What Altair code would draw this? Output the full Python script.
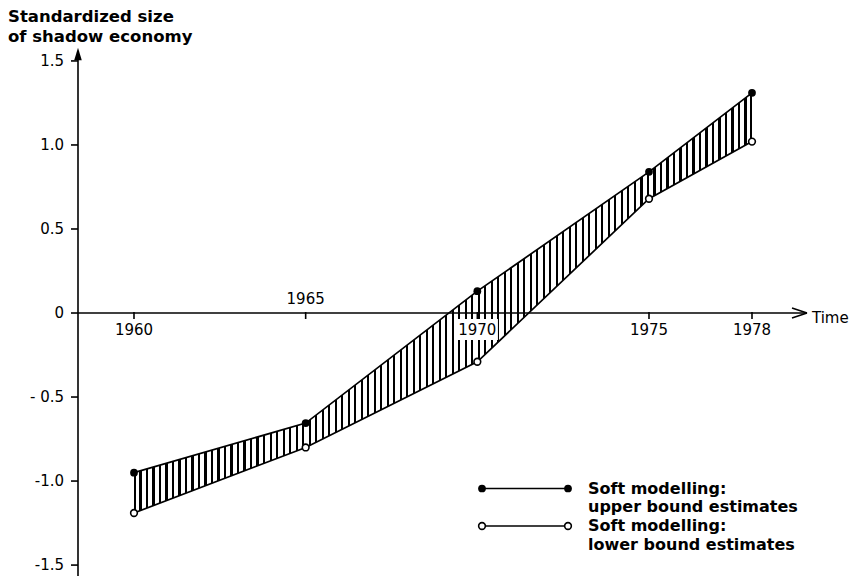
import altair as alt
import pandas as pd

# ---- data ----
years = [1960, 1965, 1970, 1975, 1978]
upper = [-0.95, -0.655, 0.13, 0.84, 1.31]
lower = [-1.19, -0.80, -0.29, 0.68, 1.02]
x_ticks = [1960, 1965, 1970, 1975, 1978]
x_label_above = 1965
y_ticks = [-1.5, -1.0, -0.5, 0.0, 0.5, 1.0, 1.5]
y_tick_labels = ["-1.5", "-1.0", "- 0.5", "0", "0.5", "1.0", "1.5"]
y_title = ["Standardized size", "of shadow economy"]
x_title = "Time"
legend_upper = ["Soft modelling:", "upper bound estimates"]
legend_lower = ["Soft modelling:", "lower bound estimates"]

df = pd.DataFrame({"year": years, "upper": upper, "lower": lower})
xt = pd.DataFrame({"t": x_ticks})
yt = pd.DataFrame({"v": y_ticks, "label": y_tick_labels})
one = pd.DataFrame({"a": [0]})

# ---- layout ----
W, H = 729, 528
XMIN, XMAX = 1958.369, 1979.602
YMIN, YMAX = -1.565, 1.577
FONT = "DejaVu Sans"
zero_px = H * (YMAX - 0) / (YMAX - YMIN)

xscale = alt.Scale(domain=[XMIN, XMAX], nice=False, zero=False)
yscale = alt.Scale(domain=[YMIN, YMAX], nice=False, zero=False)
X = lambda f: alt.X(f, type="quantitative", scale=xscale, axis=None)
Y = lambda f: alt.Y(f, type="quantitative", scale=yscale, axis=None)

# vertical hatching as a striped gradient fill
n_stripes = 95
w = 2.2 / 618
stops = []
for k in range(n_stripes + 1):
    c = k / n_stripes
    a = min(max(c - w / 2, 0.0), 1.0 - w)
    b = a + w
    stops += [
        alt.GradientStop(color="white", offset=a),
        alt.GradientStop(color="black", offset=a),
        alt.GradientStop(color="black", offset=b),
        alt.GradientStop(color="white", offset=b),
    ]
hatch = alt.LinearGradient(gradient="linear", stops=stops, x1=0, x2=1, y1=0, y2=0)

area = alt.Chart(df).mark_area(fill=hatch).encode(x=X("year"), y=Y("upper"), y2="lower:Q")

label_box = alt.Chart(one).mark_rect(fill="white").encode(
    x=X("a1"), x2="a2:Q", y=Y("b1"), y2="b2:Q",
).transform_calculate(a1="1969.4", a2="1970.6", b1="-0.035", b2="-0.16")

up_line = alt.Chart(df).mark_line(color="black", strokeWidth=1.7).encode(x=X("year"), y=Y("upper"))
lo_line = alt.Chart(df).mark_line(color="black", strokeWidth=1.7).encode(x=X("year"), y=Y("lower"))
up_pts = alt.Chart(df).mark_point(filled=True, color="black", size=60, opacity=1).encode(
    x=X("year"), y=Y("upper"))
lo_pts = alt.Chart(df).mark_point(filled=True, fill="white", stroke="black", strokeWidth=1.6,
                                  size=45, opacity=1).encode(x=X("year"), y=Y("lower"))

# ---- axes drawn as marks ----
axis_w = 1.6
y_line = alt.Chart(one).mark_rule(color="black", strokeWidth=axis_w).encode(
    x=alt.value(0), y=alt.value(6), y2=alt.value(H))
y_arrow = alt.Chart(one).mark_point(
    shape="M0,-1 L0.6,1 L-0.6,1 Z", filled=True, color="black", size=160, opacity=1
).encode(x=alt.value(0), y=alt.value(6))
y_tick_marks = alt.Chart(yt).mark_rule(color="black", strokeWidth=axis_w).encode(
    x=alt.value(-7), x2=alt.value(0), y=Y("v"))
y_tick_text = alt.Chart(yt).mark_text(
    font=FONT, fontSize=15, color="black", align="right", baseline="middle"
).encode(x=alt.value(-14), y=Y("v"), text="label:N")
y_title_text = alt.Chart(one).mark_text(
    font=FONT, fontSize=16.5, fontWeight="bold", color="black", align="left", baseline="top",
    lineHeight=19.5
).encode(x=alt.value(-70), y=alt.value(-39), text=alt.value(y_title))

x_line = alt.Chart(one).mark_rule(color="black", strokeWidth=axis_w).encode(
    x=alt.value(0), x2=alt.value(W), y=alt.value(zero_px))
x_arrow1 = alt.Chart(one).mark_rule(color="black", strokeWidth=axis_w).encode(
    x=alt.value(W - 15), y=alt.value(zero_px - 5), x2=alt.value(W), y2=alt.value(zero_px))
x_arrow2 = alt.Chart(one).mark_rule(color="black", strokeWidth=axis_w).encode(
    x=alt.value(W - 15), y=alt.value(zero_px + 5), x2=alt.value(W), y2=alt.value(zero_px))
x_tick_marks = alt.Chart(xt).mark_rule(color="black", strokeWidth=axis_w).encode(
    x=X("t"), y=alt.value(zero_px - 1), y2=alt.value(zero_px + 6))
x_tick_text_below = alt.Chart(xt).transform_filter(f"datum.t != {x_label_above}").mark_text(
    font=FONT, fontSize=15, color="black", align="center", baseline="middle"
).encode(x=X("t"), y=alt.value(zero_px + 17), text=alt.Text("t:Q", format="d"))
x_tick_text_above = alt.Chart(xt).transform_filter(f"datum.t == {x_label_above}").mark_text(
    font=FONT, fontSize=15, color="black", align="center", baseline="middle"
).encode(x=X("t"), y=alt.value(zero_px - 14), text=alt.Text("t:Q", format="d"))
x_title_text = alt.Chart(one).mark_text(
    font=FONT, fontSize=15, color="black", align="left", baseline="middle"
).encode(x=alt.value(W + 5), y=alt.value(zero_px + 5), text=alt.value(x_title))

# ---- legend ----
lx0, lx1 = 404, 490
ly1, ly2 = 440.5, 478
leg = []
for yy in (ly1, ly2):
    leg.append(alt.Chart(one).mark_rule(color="black", strokeWidth=1.6).encode(
        x=alt.value(lx0), x2=alt.value(lx1), y=alt.value(yy)))
for xx in (lx0, lx1):
    leg.append(alt.Chart(one).mark_point(filled=True, color="black", size=60, opacity=1).encode(
        x=alt.value(xx), y=alt.value(ly1)))
    leg.append(alt.Chart(one).mark_point(filled=True, fill="white", stroke="black",
                                         strokeWidth=1.6, size=45, opacity=1).encode(
        x=alt.value(xx), y=alt.value(ly2)))
for yy, txt in ((ly1, legend_upper), (ly2, legend_lower)):
    leg.append(alt.Chart(one).mark_text(
        font=FONT, fontSize=16, fontWeight="bold", align="left", baseline="middle",
        lineHeight=18.8, color="black"
    ).encode(x=alt.value(510), y=alt.value(yy), text=alt.value(txt)))

chart = alt.layer(
    area, label_box, up_line, lo_line, up_pts, lo_pts,
    y_line, y_arrow, y_tick_marks, y_tick_text, y_title_text,
    x_line, x_arrow1, x_arrow2, x_tick_marks, x_tick_text_below, x_tick_text_above, x_title_text,
    *leg
).properties(
    width=W, height=H,
    background="white",
    autosize=alt.AutoSizeParams(type="none"),
    padding={"left": 70, "top": 40, "right": 42, "bottom": 0},
).configure_view(stroke=None)

chart.save("out.html", embed_options={"renderer": "svg", "actions": False})
